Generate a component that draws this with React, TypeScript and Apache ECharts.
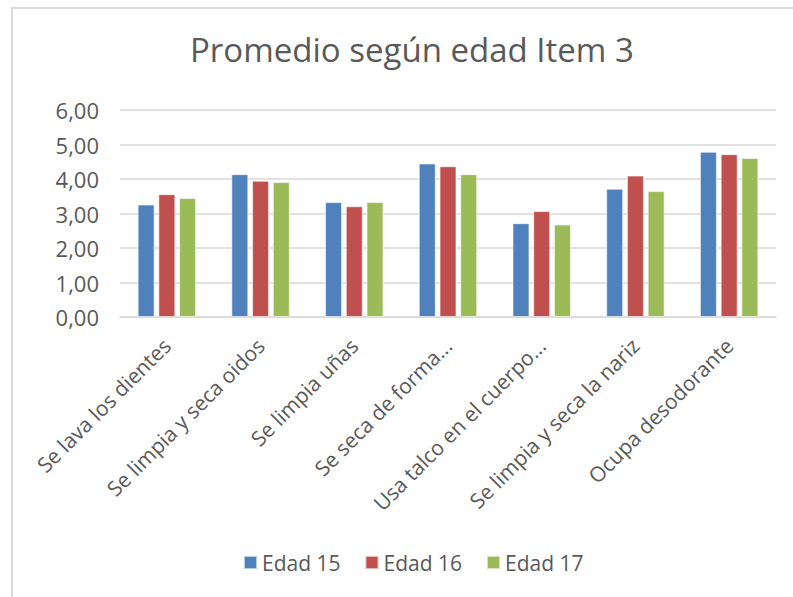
import React, { useEffect, useRef } from "react";
import * as echarts from "echarts";

const categories = [
  "Se lava los dientes",
  "Se limpia y seca oidos",
  "Se limpia uñas",
  "Se seca de forma...",
  "Usa talco en el cuerpo...",
  "Se limpia y seca la nariz",
  "Ocupa desodorante",
];
const edad15 = [3.26, 4.14, 3.33, 4.45, 2.72, 3.72, 4.79];
const edad16 = [3.56, 3.95, 3.21, 4.37, 3.07, 4.1, 4.72];
const edad17 = [3.45, 3.91, 3.33, 4.14, 2.68, 3.65, 4.61];
const seriesNames = ["Edad 15", "Edad 16", "Edad 17"];
const colors = ["#4F81BD", "#C0504D", "#9BBB59"];

const FONT = "'Open Sans', sans-serif";

export default function App() {
  const ref = useRef<HTMLDivElement>(null);
  useEffect(() => {
    if (!ref.current) return;
    const chart = echarts.init(ref.current, null, { renderer: "svg" });
    const data = [edad15, edad16, edad17];
    chart.setOption({
      animation: false,
      backgroundColor: "#ffffff",
      textStyle: { fontFamily: FONT },
      title: {
        text: "Promedio según edad Item 3",
        left: 185,
        top: 28,
        textStyle: { fontFamily: FONT, fontSize: 33, fontWeight: "normal", color: "#595959" },
      },
      legend: {
        data: seriesNames,
        left: 238,
        top: 547,
        itemWidth: 13,
        itemHeight: 13,
        itemGap: 24,
        icon: "rect",
        textStyle: { fontFamily: FONT, fontSize: 21, color: "#595959" },
      },
      grid: { left: 120, right: 17, top: 110, bottom: 280, containLabel: false },
      xAxis: {
        type: "category",
        data: categories,
        axisLine: { lineStyle: { color: "#d9d9d9", width: 1.5 } },
        axisTick: { show: false },
        axisLabel: {
          interval: 0,
          rotate: 45,
          margin: 25,
          fontFamily: FONT,
          fontSize: 21,
          color: "#595959",
        },
      },
      yAxis: {
        type: "value",
        min: 0,
        max: 6,
        interval: 1,
        axisLine: { show: false },
        axisTick: { show: false },
        splitLine: { lineStyle: { color: "#d9d9d9", width: 1.5 } },
        axisLabel: {
          margin: 21,
          fontFamily: FONT,
          fontSize: 22,
          color: "#595959",
          formatter: (v: number) => v.toFixed(2).replace(".", ","),
        },
      },
      series: seriesNames.map((name, i) => ({
        name,
        type: "bar",
        data: data[i],
        barWidth: 17,
        barGap: "22%",
        itemStyle: { color: colors[i], borderColor: "rgba(255,255,255,0.6)", borderWidth: 1 },
      })),
      graphic: [
        { type: "line", shape: { x1: 11, y1: 8, x2: 793, y2: 8 }, style: { stroke: "#d9d9d9", lineWidth: 2 } },
        { type: "line", shape: { x1: 12, y1: 7, x2: 12, y2: 597 }, style: { stroke: "#d9d9d9", lineWidth: 2 } },
      ],
    });
    return () => chart.dispose();
  }, []);
  return (
    <div
      ref={ref}
      style={{ position: "absolute", left: 0, top: 0, width: 793, height: 597 }}
    />
  );
}
